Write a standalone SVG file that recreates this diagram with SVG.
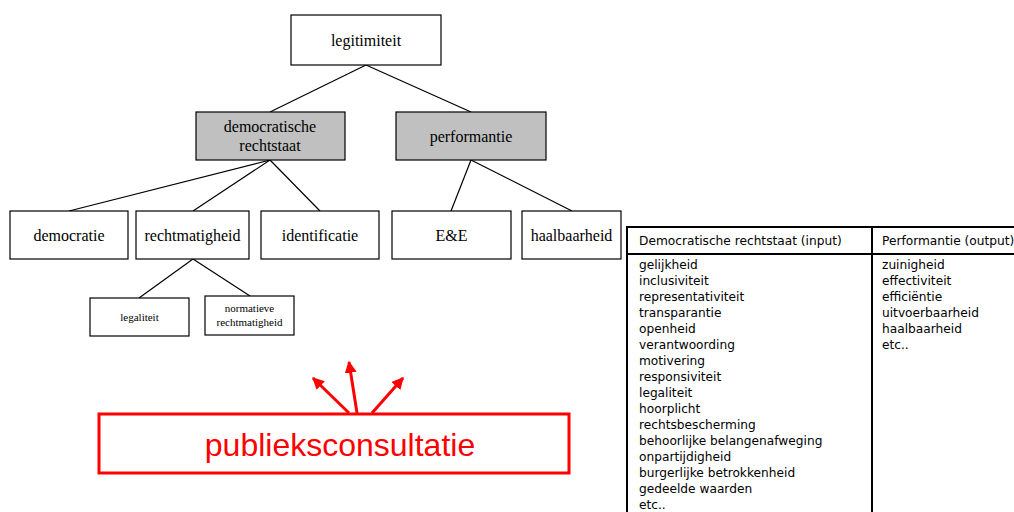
<svg xmlns="http://www.w3.org/2000/svg" width="1014" height="512" viewBox="0 0 1014 512">
<style>
.box{fill:#ffffff;stroke:#000;stroke-width:1.2}
.gray{fill:#c0c0c0;stroke:#000;stroke-width:1.2}
.t{font-family:"Liberation Serif",serif;font-size:16px;fill:#000;text-anchor:middle}
.ts{font-family:"Liberation Serif",serif;font-size:11px;fill:#000;text-anchor:middle}
.conn line{stroke:#000;stroke-width:1.2}
.tbl{font-family:"DejaVu Sans",Verdana,sans-serif;font-size:12.2px;fill:#000}
.red{stroke:#ff0000;stroke-width:3;fill:none}
</style>
<defs>
<marker id="ah" viewBox="0 0 10 10" refX="9" refY="5" markerWidth="4" markerHeight="4" orient="auto" markerUnits="strokeWidth">
<path d="M0,0 L10,5 L0,10 z" fill="#ff0000"/>
</marker>
</defs>
<rect width="1014" height="512" fill="#ffffff"/>
<g class="conn" id="connectors">
<line x1="366" y1="65" x2="270" y2="112"/>
<line x1="366" y1="65" x2="471" y2="112"/>
<line x1="270" y1="160" x2="69" y2="211"/>
<line x1="270" y1="160" x2="193" y2="211"/>
<line x1="270" y1="160" x2="320" y2="211"/>
<line x1="471" y1="160" x2="451" y2="211"/>
<line x1="471" y1="160" x2="572" y2="211"/>
<line x1="193" y1="259" x2="139" y2="298"/>
<line x1="193" y1="259" x2="250" y2="296"/>
</g>
<g id="legitimiteit"><rect class="box" x="291" y="15" width="150" height="50"/><text class="t" x="366" y="46">legitimiteit</text></g>
<g id="democratische-rechtstaat"><rect class="gray" x="196" y="112" width="149" height="48"/><text class="t" x="270" y="132">democratische</text><text class="t" x="270" y="151">rechtstaat</text></g>
<g id="performantie"><rect class="gray" x="396" y="112" width="150" height="48"/><text class="t" x="471" y="142">performantie</text></g>
<g id="democratie"><rect class="box" x="10" y="211" width="118" height="48"/><text class="t" x="69" y="241">democratie</text></g>
<g id="rechtmatigheid"><rect class="box" x="136" y="211" width="113" height="48"/><text class="t" x="192.5" y="241">rechtmatigheid</text></g>
<g id="identificatie"><rect class="box" x="261" y="211" width="118" height="48"/><text class="t" x="320" y="241">identificatie</text></g>
<g id="ee"><rect class="box" x="392" y="211" width="119" height="48"/><text class="t" x="451.5" y="241">E&amp;E</text></g>
<g id="haalbaarheid"><rect class="box" x="522" y="211" width="99" height="48"/><text class="t" x="571.5" y="241">haalbaarheid</text></g>
<g id="legaliteit"><rect class="box" x="90" y="298" width="99" height="38"/><text class="ts" x="139.5" y="321">legaliteit</text></g>
<g id="normatieve-rechtmatigheid"><rect class="box" x="205" y="296" width="89" height="39"/><text class="ts" x="249.5" y="312">normatieve</text><text class="ts" x="249.5" y="326">rechtmatigheid</text></g>
<g id="table">
<rect x="627" y="227" width="400" height="300" fill="#fff" stroke="#000" stroke-width="2"/>
<line x1="627" y1="254" x2="1014" y2="254" stroke="#000" stroke-width="2"/>
<line x1="872" y1="227" x2="872" y2="512" stroke="#000" stroke-width="2"/>
<text class="tbl" x="639" y="245">Democratische rechtstaat (input)</text>
<text class="tbl" x="882" y="245">Performantie (output)</text>
<text class="tbl" x="639" y="269">gelijkheid</text>
<text class="tbl" x="639" y="285">inclusiviteit</text>
<text class="tbl" x="639" y="301">representativiteit</text>
<text class="tbl" x="639" y="317">transparantie</text>
<text class="tbl" x="639" y="333">openheid</text>
<text class="tbl" x="639" y="349">verantwoording</text>
<text class="tbl" x="639" y="365">motivering</text>
<text class="tbl" x="639" y="381">responsiviteit</text>
<text class="tbl" x="639" y="397">legaliteit</text>
<text class="tbl" x="639" y="413">hoorplicht</text>
<text class="tbl" x="639" y="429">rechtsbescherming</text>
<text class="tbl" x="639" y="445">behoorlijke belangenafweging</text>
<text class="tbl" x="639" y="461">onpartijdigheid</text>
<text class="tbl" x="639" y="477">burgerlijke betrokkenheid</text>
<text class="tbl" x="639" y="493">gedeelde waarden</text>
<text class="tbl" x="639" y="509">etc..</text>
<text class="tbl" x="882" y="269">zuinigheid</text>
<text class="tbl" x="882" y="285">effectiviteit</text>
<text class="tbl" x="882" y="301">efficiëntie</text>
<text class="tbl" x="882" y="317">uitvoerbaarheid</text>
<text class="tbl" x="882" y="333">haalbaarheid</text>
<text class="tbl" x="882" y="349">etc..</text>
</g>
<g id="publieksconsultatie">
<rect class="red" x="99" y="414" width="470" height="59"/>
<text x="340" y="456" font-family="'Liberation Sans',Arial,sans-serif" font-size="32" fill="#ff0000" text-anchor="middle">publieksconsultatie</text>
</g>
<g id="red-arrows" stroke="#ff0000" stroke-width="3" fill="none">
<line x1="349" y1="413" x2="313" y2="378" marker-end="url(#ah)"/>
<line x1="357" y1="413" x2="349" y2="362" marker-end="url(#ah)"/>
<line x1="372" y1="413" x2="403" y2="378" marker-end="url(#ah)"/>
</g>
</svg>
